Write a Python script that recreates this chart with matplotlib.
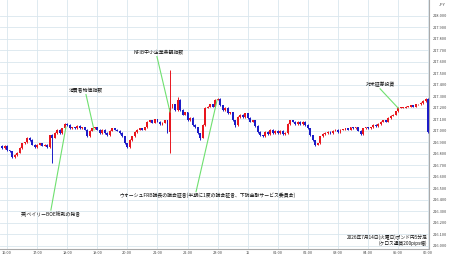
import numpy as np
import matplotlib
matplotlib.use('Agg')
import matplotlib.pyplot as plt

plt.rcParams['font.family'] = ['Noto Sans CJK JP', 'DejaVu Sans']

# GBP/JPY 5-minute closes, 15:50 -> 06:00 (one value per candle)
first_open = 216.87
closes = [
    216.85, 216.87,
    # 16:00
    216.83, 216.82, 216.77, 216.79, 216.81, 216.85, 216.89, 216.90, 216.94, 216.92, 216.88, 216.86,
    # 17:00
    216.88, 216.89, 216.87, 216.88, 216.86, 216.96, 216.94, 216.98, 217.01, 216.98, 217.02, 217.06,
    # 18:00
    217.05, 217.02, 217.03, 217.02, 217.04, 217.02, 217.03, 217.01, 216.95, 217.00, 217.02, 217.03,
    # 19:00
    217.01, 216.98, 217.01, 216.98, 216.96, 217.00, 217.02, 217.01, 217.00, 216.98, 216.95, 216.89,
    # 20:00
    216.86, 216.92, 216.95, 216.99, 217.01, 217.02, 217.01, 217.03, 217.08, 217.09, 217.07, 217.10,
    # 21:00
    217.08, 217.06, 217.07, 217.09, 216.99, 217.20, 217.23, 217.18, 217.27, 217.18, 217.14, 217.16,
    # 22:00
    217.09, 217.11, 217.05, 217.03, 216.98, 216.94, 217.05, 217.20, 217.21, 217.23, 217.21, 217.27,
    # 23:00
    217.28, 217.22, 217.18, 217.20, 217.15, 217.16, 217.09, 217.05, 217.12, 217.14, 217.12, 217.15,
    # 00:00
    217.11, 217.08, 217.09, 217.04, 216.99, 216.96, 216.95, 216.99, 216.97, 217.01, 216.98, 217.00,
    # 01:00
    216.98, 217.00, 216.97, 216.98, 217.06, 217.09, 217.08, 217.06, 217.08, 217.06, 217.08, 217.05,
    # 02:00
    217.02, 216.96, 216.92, 216.88, 216.89, 216.95, 216.97, 216.98, 216.99, 216.98, 217.00, 217.01,
    # 03:00
    216.99, 217.01, 217.01, 217.02, 217.01, 217.03, 217.02, 217.03, 217.00, 216.97, 217.02, 217.03,
    # 04:00
    217.02, 217.03, 217.05, 217.04, 217.06, 217.08, 217.09, 217.08, 217.11, 217.13, 217.14, 217.17,
    # 05:00
    217.20, 217.20, 217.20, 217.21, 217.21, 217.22, 217.21, 217.23, 217.23, 217.24, 217.26, 217.28,
    # 06:00
    216.99,
]
# candles with notable wicks: index -> (high, low)
big_wicks = {20: (216.97, 216.72), 67: (217.53, 216.81), 70: (217.29, 217.17),
             79: (216.98, 216.92), 93: (217.09, 217.03), 125: (216.92, 216.87)}
small_wick = 0.006

hour_labels = ['16:00', '17:00', '18:00', '19:00', '20:00', '21:00', '22:00', '23:00',
               '15', '01:00', '02:00', '03:00', '04:00', '05:00', '06:00']
hour_idx = [2 + 12 * k for k in range(len(hour_labels))]

events = [
    # text, text (x, y), line start, line end
    ('消費者物価指数', (33.5, 217.33), (33.5, 217.315), (36.7, 217.006)),
    ('NFIB中小企業楽観指数', (62.5, 217.66), (61.8, 217.645), (67.0, 217.163)),
    ('対米証券投資', (150.8, 217.38), (150.8, 217.365), (158.0, 217.197)),
    ('英)ベイリーBOE総裁の発言', (19.5, 216.30), (19.5, 216.31), (25.5, 217.032)),
    ('ウォーシュFRB議長の議会証言(半期に1度の議会証言、下院金融サービス委員会)',
     (81.8, 216.465), (77.4, 216.47), (85.8, 217.267)),
]

closes = np.array(closes)
opens = np.concatenate([[first_open], closes[:-1]])
x = np.arange(len(closes))
highs = np.maximum(opens, closes) + small_wick
lows = np.minimum(opens, closes) - small_wick
for k, (h, l) in big_wicks.items():
    highs[k] = h
    lows[k] = l

up_col = '#e8161e'
dn_col = '#1c1cc8'
cols = [up_col if c >= o else dn_col for o, c in zip(opens, closes)]

fig = plt.figure(figsize=(4.5, 2.58), dpi=100)
ax = fig.add_axes([0.0, 0.036, 0.9544, 0.964])

ax.set_xlim(-0.8, 170.5)
ax.set_ylim(215.974, 218.137)

# grid
grid_col = '#d9e6ee'
for yv in np.arange(216.0, 218.0001, 0.1):
    ax.axhline(yv, color=grid_col, lw=0.6, zorder=0)
for xv in hour_idx:
    ax.axvline(xv, color=grid_col, lw=0.6, zorder=0)

# candles
ax.vlines(x, lows, highs, colors=cols, lw=0.7, zorder=2)
body = np.abs(closes - opens)
body = np.maximum(body, 0.005)
ax.bar(x, body, bottom=np.minimum(opens, closes), width=0.75, color=cols, lw=0, zorder=3)

# event annotations
for text, tpos, p0, p1 in events:
    ax.plot([p0[0], p1[0]], [p0[1], p1[1]], color='#6fe06f', lw=0.8, zorder=4)
    va = 'bottom' if tpos[1] > p1[1] else 'top'
    ax.text(tpos[0], tpos[1], text, fontsize=3.5, ha='center', va=va, color='#111111', zorder=5)

ax.text(0.995, 0.035, '2026年7月14日(火曜日)ポンド円5分足', transform=ax.transAxes,
        fontsize=3.4, ha='right', va='bottom', color='#111111')
ax.text(0.995, 0.012, '(クロス通貨200pips幅)', transform=ax.transAxes,
        fontsize=3.4, ha='right', va='bottom', color='#111111')

# axes styling
for s in ['left', 'top']:
    ax.spines[s].set_visible(False)
for s in ['right', 'bottom']:
    ax.spines[s].set_color('#aaaaaa')
    ax.spines[s].set_linewidth(0.8)

ax.yaxis.tick_right()
ax.set_yticks(np.arange(216.0, 218.0001, 0.1))
ax.set_yticklabels([f'{v:.3f}' for v in np.arange(216.0, 218.0001, 0.1)])
ax.tick_params(axis='y', length=0, pad=2.5, labelsize=2.8, labelcolor='#444444')
ax.set_xticks(hour_idx)
ax.set_xticklabels(hour_labels)
ax.tick_params(axis='x', length=0, pad=1.8, labelsize=2.8, labelcolor='#444444')

fig.text(0.982, 0.981, 'JPY', fontsize=2.8, ha='center', va='center', color='#444444')

fig.savefig('out.png', dpi=100, facecolor='white')
